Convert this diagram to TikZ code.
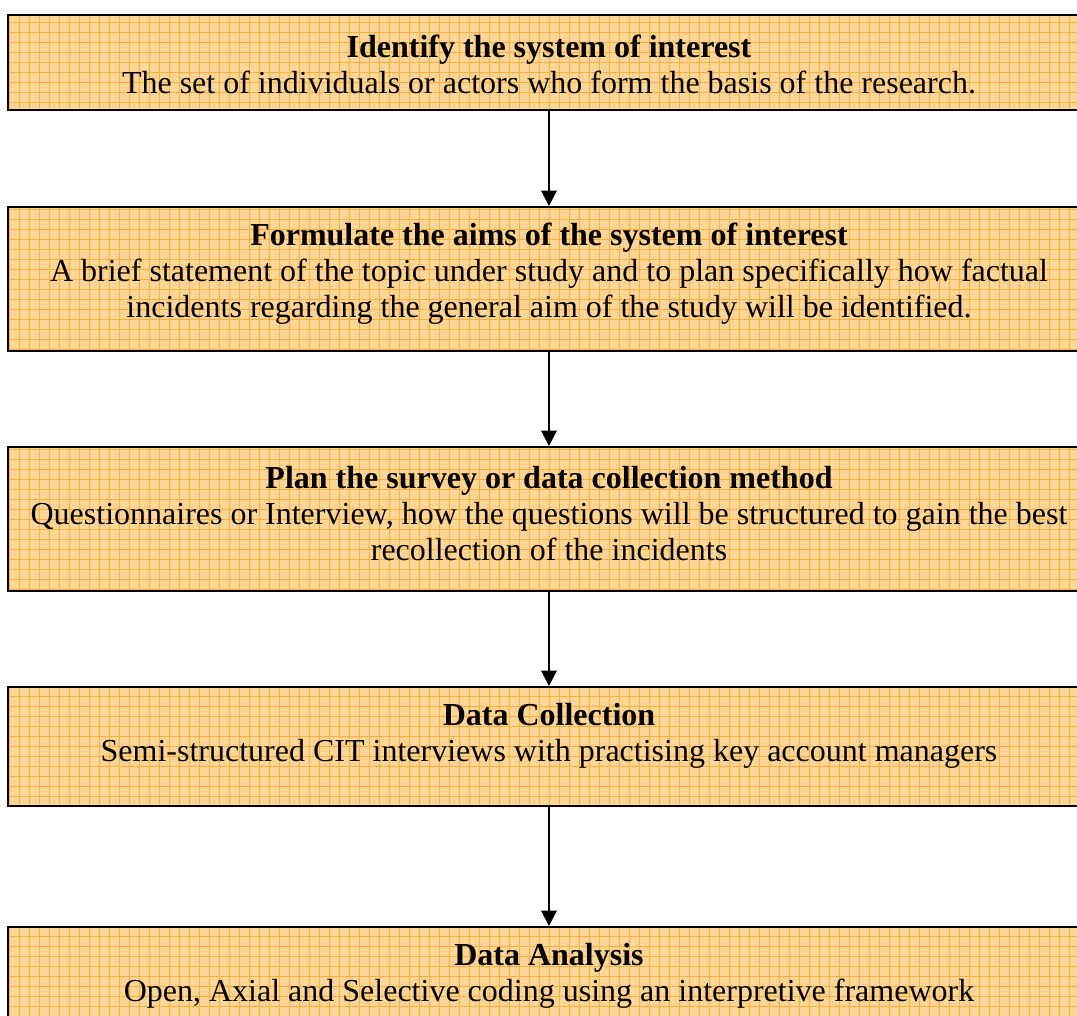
\documentclass[tikz,border=0pt]{standalone}
\usepackage{fontspec}
\setmainfont{Liberation Serif}
\usetikzlibrary{arrows.meta}
\definecolor{boxfill}{RGB}{255,214,152}
\definecolor{gridorange}{RGB}{255,176,60}
\tikzset{
  stagebox/.style={draw=black, line width=1.5pt, fill=boxfill,
    minimum width=811.5pt, inner sep=0pt, anchor=center,
    path picture={\draw[gridorange, line width=0.45pt]
      (path picture bounding box.south west) grid[step=7.5pt]
      (path picture bounding box.north east);}},
  stagetext/.style={align=center, font=\fontsize{24}{27}\selectfont, inner sep=0pt},
  flow/.style={line width=1.5pt, -{Triangle[length=11.5pt,width=11.5pt]}}
}
\begin{document}
\begin{tikzpicture}[x=0.75pt,y=-0.75pt]
\useasboundingbox (0,0) rectangle (1077,1016);
\clip (0,0) rectangle (1077,1016);
\fill[white] (0,0) rectangle (1077,1016);
% stage boxes, running past the right edge
\node[stagebox, minimum height=71.25pt] (b1) at (549,62.5) {};
\node[stagebox, minimum height=108pt] (b2) at (549,279) {};
\node[stagebox, minimum height=108pt] (b3) at (549,519) {};
\node[stagebox, minimum height=89.25pt] (b4) at (549,746.5) {};
\node[stagebox, minimum height=89.25pt] (b5) at (549,986.5) {};
% stage texts
\node[stagetext] (t1) at (549,64) {\textbf{Identify the system of interest}\\The set of individuals or actors who form the basis of the research.};
\node[stagetext] (t2) at (549,274) {\textbf{Formulate the aims of the system of interest}\\A brief statement of the topic under study and to plan specifically how factual\\incidents regarding the general aim of the study will be identified.};
\node[stagetext] (t3) at (549,514) {\textbf{Plan the survey or data collection method}\\Questionnaires or Interview, how the questions will be structured to gain the best\\recollection of the incidents};
\node[stagetext] (t4) at (549,736) {\textbf{Data Collection}\\Semi-structured CIT interviews with practising key account managers};
\node[stagetext] (t5) at (549,976) {\textbf{Data Analysis}\\Open, Axial and Selective coding using an interpretive framework};
% connectors
\draw[flow] (b1.south) -- (b2.north);
\draw[flow] (b2.south) -- (b3.north);
\draw[flow] (b3.south) -- (b4.north);
\draw[flow] (b4.south) -- (b5.north);
\end{tikzpicture}
\end{document}
